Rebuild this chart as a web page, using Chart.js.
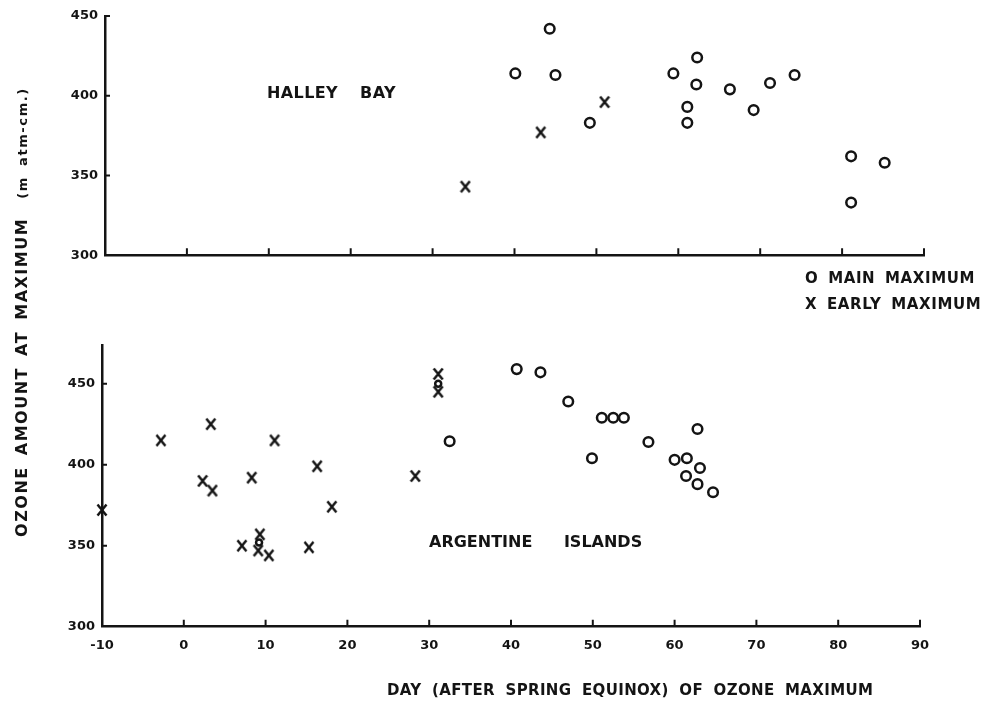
<!DOCTYPE html>
<html>
<head>
<meta charset="utf-8">
<script src="https://cdn.jsdelivr.net/npm/chart.js@4.4.1/dist/chart.umd.min.js"></script>
<style>
  body { margin: 0; background: #fff; }
  #wrap { position: relative; width: 991px; height: 704px; overflow: hidden;
          font-family: "DejaVu Sans", sans-serif; color: #141414; }
  canvas { position: absolute; left: 0; }
  #topChart { top: 0; }
  #bottomChart { top: 330px; }
  .lbl { position: absolute; font-weight: bold; white-space: nowrap; line-height: 1; }
  #halley { left: 267px; top: 85px; font-size: 16px; letter-spacing: 0.4px; word-spacing: 16px; }
  #argentine { left: 429px; top: 534px; font-size: 16px; word-spacing: 26px; }
  #legendMain { left: 805px; top: 271px; font-size: 15px; letter-spacing: 0.6px; word-spacing: 4px; }
  #legendEarly { left: 805px; top: 297px; font-size: 15px; letter-spacing: 0.6px; word-spacing: 4px; }
  #yTitle { left: -213px; top: 304px; width: 470px; text-align: center; font-size: 16px;
            letter-spacing: 1.5px; word-spacing: 4px; transform: rotate(-90deg); }
  #yTitle span { font-size: 13px; letter-spacing: 1.6px; margin-left: 8px; }
  #xTitle { left: 387px; top: 683px; font-size: 15px; letter-spacing: 0.35px; word-spacing: 5px; }
</style>
</head>
<body>
<div id="wrap">
  <canvas id="topChart" width="991" height="270"></canvas>
  <canvas id="bottomChart" width="991" height="374"></canvas>
  <div class="lbl" id="halley">HALLEY BAY</div>
  <div class="lbl" id="argentine">ARGENTINE ISLANDS</div>
  <div class="lbl" id="legendMain">O MAIN MAXIMUM</div>
  <div class="lbl" id="legendEarly">X EARLY MAXIMUM</div>
  <div class="lbl" id="yTitle">OZONE AMOUNT AT MAXIMUM <span>(m atm-cm.)</span></div>
  <div class="lbl" id="xTitle">DAY (AFTER SPRING EQUINOX) OF OZONE MAXIMUM</div>
</div>
<script>
// day after spring equinox / ozone (m atm-cm)
const haMainDays = [40.1, 44.3, 45.0, 49.2, 59.4, 62.3, 62.2, 61.1, 61.1, 66.3, 69.2, 71.2, 74.2, 81.1, 81.1, 85.2];
const haMainOzone = [414, 442, 413, 383, 414, 424, 407, 393, 383, 404, 391, 408, 413, 362, 333, 358];
const haEarlyDays = [34.0, 43.2, 51.0];
const haEarlyOzone = [343, 377, 396];

const aiEarlyDays = [-10.0, -2.8, 3.3, 2.3, 3.5, 8.3, 11.1, 16.3, 18.1, 7.1, 9.3, 9.1, 10.4, 15.3, 28.3, 31.1, 31.1];
const aiEarlyOzone = [372, 415, 425, 390, 384, 392, 415, 399, 374, 350, 357, 347, 344, 349, 393, 456, 445];
const aiMainDays = [9.2, 31.1, 32.5, 40.7, 43.6, 47.0, 49.9, 51.1, 52.5, 53.8, 56.8, 60.0, 61.5, 62.8, 63.1, 61.4, 62.8, 64.7];
const aiMainOzone = [352, 450, 414.5, 459, 457, 439, 404, 429, 429, 429, 414, 403, 404, 422, 398, 393, 388, 383];

const dayTicks = [-10, 0, 10, 20, 30, 40, 50, 60, 70, 80, 90];
const ozoneTicks = [300, 350, 400, 450];

const INK = "#141414";
const tickFont = { family: "DejaVu Sans", size: 13, weight: "bold" };

function pts(xs, ys) {
  return xs.map((x, i) => ({ x: x, y: ys[i] }));
}

// the "X" symbol is a lettered cross, a little taller than wide
function makeCross() {
  const c = document.createElement("canvas");
  c.width = 12; c.height = 14;
  const g = c.getContext("2d");
  g.strokeStyle = INK;
  g.lineWidth = 2.5;
  g.beginPath();
  g.moveTo(1.5, 1.5); g.lineTo(10.5, 12.5);
  g.moveTo(10.5, 1.5); g.lineTo(1.5, 12.5);
  g.stroke();
  return c;
}
const cross = makeCross();

// small tick marks pointing into the plot
const inwardTicks = {
  id: "inwardTicks",
  beforeDatasetsDraw(chart) {
    const { ctx, chartArea, scales } = chart;
    ctx.save();
    ctx.strokeStyle = INK;
    ctx.lineWidth = 2;
    ctx.beginPath();
    scales.x.ticks.forEach(t => {
      if (t.value === scales.x.min) return;
      const px = scales.x.getPixelForValue(t.value);
      ctx.moveTo(px, chartArea.bottom);
      ctx.lineTo(px, chartArea.bottom - 7);
    });
    scales.y.ticks.forEach(t => {
      if (t.value === scales.y.min) return;
      const py = scales.y.getPixelForValue(t.value);
      ctx.moveTo(chartArea.left, py);
      ctx.lineTo(chartArea.left + 5, py);
    });
    ctx.stroke();
    ctx.restore();
  }
};

function makePanel(canvasId, mainPts, earlyPts, opts) {
  const early = earlyPts;
  return new Chart(document.getElementById(canvasId), {
    type: "scatter",
    data: {
      datasets: [
        {
          label: "MAIN MAXIMUM",
          data: mainPts,
          pointStyle: "circle",
          pointRadius: ctx => {
            const p = ctx.raw;
            const stacked = early.some(e => Math.abs(e.x - p.x) < 1 && Math.abs(e.y - p.y) < 8);
            return stacked ? 3 : 4.8;
          },
          borderColor: INK,
          backgroundColor: "rgba(0,0,0,0)",
          borderWidth: 2.5,
          clip: false
        },
        {
          label: "EARLY MAXIMUM",
          data: earlyPts,
          pointStyle: cross,
          borderColor: INK,
          clip: false
        }
      ]
    },
    options: {
      responsive: false,
      animation: false,
      devicePixelRatio: 1,
      layout: { padding: { left: 0, right: opts.right, top: opts.top, bottom: 0 } },
      plugins: { legend: { display: false }, tooltip: { enabled: false } },
      scales: {
        x: {
          type: "linear",
          min: -10, max: 90,
          afterBuildTicks: s => { s.ticks = dayTicks.map(v => ({ value: v })); },
          afterFit: s => { s.height = opts.xHeight; },
          grid: { display: false, drawTicks: false },
          border: { display: true, color: INK, width: 2.5 },
          ticks: { display: opts.xLabels, color: INK, font: tickFont, padding: 11, maxRotation: 0 }
        },
        y: {
          type: "linear",
          min: 300, max: opts.yMax,
          afterBuildTicks: s => { s.ticks = ozoneTicks.map(v => ({ value: v })); },
          afterFit: s => { s.width = opts.yWidth; },
          grid: { display: false, drawTicks: false },
          border: { display: true, color: INK, width: 2.5 },
          ticks: { color: INK, font: tickFont, padding: 7 }
        }
      }
    },
    plugins: [inwardTicks]
  });
}

makePanel("topChart", pts(haMainDays, haMainOzone), pts(haEarlyDays, haEarlyOzone),
  { right: 67, top: 16, xHeight: 9, yWidth: 105, yMax: 450, xLabels: false });
makePanel("bottomChart", pts(aiMainDays, aiMainOzone), pts(aiEarlyDays, aiEarlyOzone),
  { right: 71, top: 14.5, xHeight: 77.3, yWidth: 102, yMax: 474, xLabels: true });
</script>
</body>
</html>
